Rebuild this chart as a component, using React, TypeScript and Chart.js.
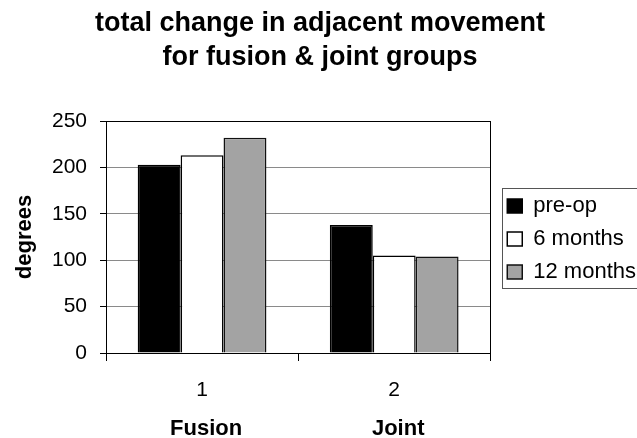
import React, { useEffect, useRef } from "react";
import { Chart, registerables } from "chart.js";

Chart.register(...registerables);

const categories = ["1", "2"];
const groupLabels = ["Fusion", "Joint"];
const seriesNames = ["pre-op", "6 months", "12 months"];
const preOp = [203, 138];
const sixMonths = [213, 105];
const twelveMonths = [232, 104];
const yTicks = [0, 50, 100, 150, 200, 250];

const FONT = "'Liberation Sans', Arial, sans-serif";

const framePlugin = {
  id: "frame",
  afterLayout(chart: any) {
    const lg = chart.legend;
    if (lg) {
      lg.left += 6;
      lg.right += 6;
      lg.top += 2;
      lg.bottom += 2;
    }
  },
  afterDraw(chart: any) {
    const { ctx, chartArea } = chart;
    ctx.save();
    ctx.strokeStyle = "#000";
    ctx.lineWidth = 1;
    ctx.strokeRect(
      Math.round(chartArea.left) + 0.5,
      Math.round(chartArea.top) + 0.5,
      Math.round(chartArea.right - chartArea.left),
      Math.round(chartArea.bottom - chartArea.top)
    );
    const lg = chart.legend;
    if (lg && lg.legendHitBoxes && lg.legendHitBoxes.length) {
      const hb = lg.legendHitBoxes;
      const first = hb[0];
      const last = hb[hb.length - 1];
      const x0 = Math.round(first.left - 5) + 0.5;
      const y0 = Math.round(first.top - 7) + 0.5;
      const y1 = Math.round(last.top + 27) + 0.5;
      ctx.strokeStyle = "#555";
      ctx.strokeRect(x0, y0, chart.width + 20 - x0, y1 - y0);
    }
    ctx.restore();
  },
};

export default function App() {
  const ref = useRef<HTMLCanvasElement | null>(null);

  useEffect(() => {
    if (!ref.current) return;
    const chart = new Chart(ref.current, {
      type: "bar",
      data: {
        labels: categories,
        datasets: [
          {
            label: seriesNames[0],
            data: preOp,
            backgroundColor: "#000000",
            borderColor: "#000000",
            borderWidth: 1.5,
          },
          {
            label: seriesNames[1],
            data: sixMonths,
            backgroundColor: "#ffffff",
            borderColor: "#000000",
            borderWidth: 1.5,
          },
          {
            label: seriesNames[2],
            data: twelveMonths,
            backgroundColor: "#a3a3a3",
            borderColor: "#111111",
            borderWidth: 1.5,
          },
        ],
      },
      options: {
        animation: false,
        responsive: false,
        maintainAspectRatio: false,
        categoryPercentage: 0.67,
        barPercentage: 1.0,
        layout: { padding: { left: 0, right: -3, top: 0, bottom: 0 } },
        plugins: {
          title: {
            display: true,
            text: [
              "total change in adjacent movement",
              "for fusion & joint groups",
            ],
            color: "#000",
            font: { family: FONT, size: 27, weight: "bold", lineHeight: 1.26 },
            padding: { top: 7, bottom: 46 },
          },
          legend: {
            position: "right",
            align: "center",
            fullSize: false,
            labels: {
              boxWidth: 15,
              boxHeight: 14,
              padding: 11,
              color: "#000",
              font: { family: FONT, size: 22 },
            },
          },
          tooltip: { enabled: false },
        },
        scales: {
          x: {
            type: "category",
            position: "bottom",
            weight: 0,
            offset: true,
            afterFit: (scale: any) => {
              scale.height = 52;
            },
            grid: {
              display: true,
              offset: true,
              drawOnChartArea: false,
              drawTicks: true,
              tickLength: 8,
              tickColor: "#000",
            },
            border: { display: true, color: "#000", width: 1 },
            ticks: {
              color: "#000",
              font: { family: FONT, size: 21 },
              padding: 17,
            },
          },
          x2: {
            type: "category",
            labels: groupLabels,
            position: "bottom",
            weight: 1,
            offset: true,
            afterFit: (scale: any) => {
              scale.height = 33;
            },
            grid: { display: false, drawTicks: false },
            border: { display: false },
            ticks: {
              color: "#000",
              font: { family: FONT, size: 22, weight: "bold", lineHeight: 1 },
              padding: 13,
              labelOffset: 4,
            },
          },
          y: {
            min: 0,
            max: 250,
            afterBuildTicks: (scale: any) => {
              scale.ticks = yTicks.map((v) => ({ value: v }));
            },
            afterFit: (scale: any) => {
              scale.width = 106;
            },
            grid: {
              color: "#8a8a8a",
              lineWidth: 1,
              tickLength: 6,
              tickColor: "#000",
            },
            border: { display: true, color: "#000", width: 1 },
            ticks: {
              color: "#000",
              font: { family: FONT, size: 21 },
              padding: 13,
            },
            title: {
              display: true,
              text: "degrees",
              color: "#000",
              font: { family: FONT, size: 22, weight: "bold", lineHeight: 1.2 },
              padding: { top: 12, bottom: 14 },
            },
          },
        },
      },
      plugins: [framePlugin],
    });
    return () => chart.destroy();
  }, []);

  return (
    <div
      style={{
        position: "absolute",
        left: 0,
        top: 0,
        width: 637,
        height: 438,
        overflow: "hidden",
        background: "#fff",
      }}
    >
      <canvas ref={ref} width={637} height={438} style={{ display: "block" }} />
    </div>
  );
}
